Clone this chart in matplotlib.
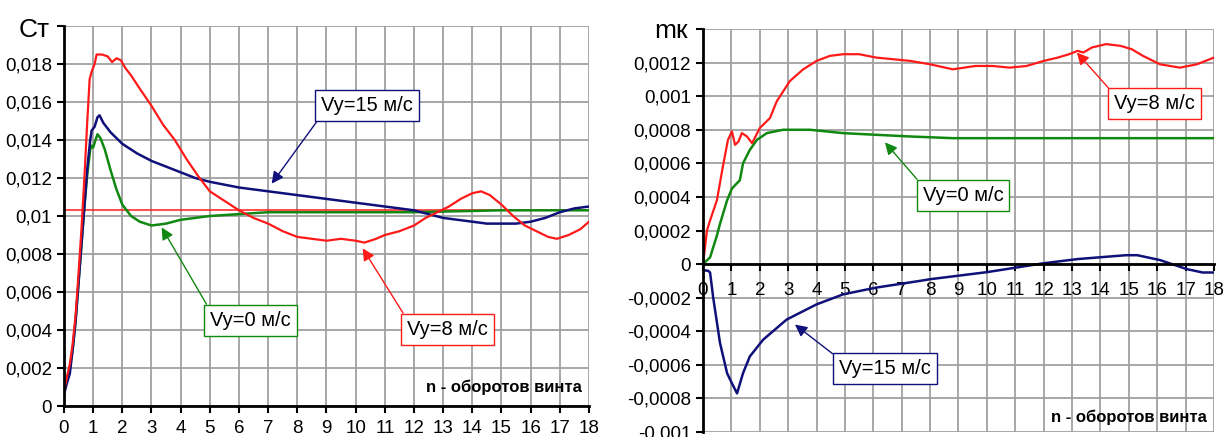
import numpy as np
import matplotlib
matplotlib.use("Agg")
import matplotlib.pyplot as plt
from matplotlib.ticker import FixedLocator, FuncFormatter

plt.rcParams['font.family'] = ['Liberation Sans', 'DejaVu Sans']

# ---- left chart: Ct vs n ----
ct_v8_x = [0, 0.1, 0.2, 0.3, 0.4, 0.5, 0.6, 0.7, 0.8, 0.88, 0.95, 1.05, 1.12, 1.3, 1.5, 1.65, 1.8, 1.95,
           2.1, 2.3, 2.6, 3.0, 3.4, 3.8, 4.2, 4.6, 5.0, 5.5, 6.0, 6.5, 7.0, 7.5, 8.0, 8.5, 9.0, 9.5,
           10.0, 10.3, 10.7, 11.0, 11.5, 12.0, 12.4, 12.8, 13.2, 13.6, 14.0, 14.3, 14.6, 15.0, 15.4,
           15.8, 16.2, 16.6, 16.9, 17.3, 17.7, 18.0]
ct_v8_y = [0.0008, 0.0015, 0.0022, 0.0033, 0.0048, 0.0070, 0.0093, 0.0120, 0.0150, 0.0172, 0.0176, 0.0180,
           0.0185, 0.0185, 0.0184, 0.0181, 0.0183, 0.0182, 0.0178, 0.0174, 0.0167, 0.0158, 0.0148, 0.0140,
           0.0130, 0.0121, 0.0113, 0.0108, 0.0103, 0.0099, 0.0096, 0.0092, 0.0089, 0.0088, 0.0087, 0.0088,
           0.0087, 0.0086, 0.0088, 0.0090, 0.0092, 0.0095, 0.0099, 0.0102, 0.0105, 0.0109, 0.0112, 0.0113,
           0.0111, 0.0106, 0.0100, 0.0095, 0.0092, 0.0089, 0.0088, 0.0090, 0.0093, 0.0097]

ct_v15_x = [0, 0.1, 0.2, 0.3, 0.4, 0.5, 0.6, 0.7, 0.8, 0.9, 0.95, 1.05, 1.15, 1.22, 1.35, 1.6, 2.0, 2.5,
            3.0, 3.5, 4.0, 4.5, 5.0, 6.0, 7.0, 8.0, 9.0, 10.0, 11.0, 12.0, 13.0, 14.0, 14.5, 15.0, 15.5,
            16.0, 16.5, 17.0, 17.5, 18.0]
ct_v15_y = [0.0006, 0.0012, 0.0017, 0.0030, 0.0045, 0.0065, 0.0085, 0.0105, 0.0125, 0.0140, 0.0145, 0.0147,
            0.0152, 0.0153, 0.0149, 0.0144, 0.0138, 0.0133, 0.0129, 0.0126, 0.0123, 0.0120, 0.0118, 0.0115,
            0.0113, 0.0111, 0.0109, 0.0107, 0.0105, 0.0103, 0.0099, 0.0097, 0.0096, 0.0096, 0.0096, 0.0097,
            0.0099, 0.0102, 0.0104, 0.0105]

ct_v0_x = [0, 0.1, 0.2, 0.3, 0.4, 0.5, 0.6, 0.7, 0.8, 0.9, 0.95, 1.0, 1.08, 1.15, 1.25, 1.4, 1.6, 1.8,
           2.0, 2.3, 2.6, 3.0, 3.5, 4.0, 5.0, 6.0, 7.0, 9.0, 12.0, 15.0, 18.0]
ct_v0_y = [0.0010, 0.0015, 0.0020, 0.0030, 0.0045, 0.0065, 0.0085, 0.0105, 0.0122, 0.0135, 0.0137, 0.0136,
           0.0140, 0.0143, 0.0141, 0.0135, 0.0124, 0.0114, 0.0106, 0.0100, 0.0097, 0.0095, 0.0096, 0.0098,
           0.0100, 0.0101, 0.0102, 0.0102, 0.0102, 0.0103, 0.0103]

ct_ref = 0.0103

# ---- right chart: mk vs n ----
mk_v8_x = [0, 0.14, 0.25, 0.49, 0.7, 0.88, 1.02, 1.13, 1.25, 1.37, 1.55, 1.73, 2.0, 2.36, 2.6, 3.06, 3.53,
           4.0, 4.47, 4.94, 5.5, 6.1, 6.7, 7.3, 8.0, 8.8, 9.6, 10.2, 10.8, 11.4, 12.0, 12.5, 12.9, 13.2,
           13.4, 13.7, 14.2, 14.7, 15.1, 15.5, 16.1, 16.8, 17.4, 18.0]
mk_v8_y = [0, 0.0002, 0.00026, 0.00038, 0.00058, 0.00074, 0.00079, 0.00071, 0.00073, 0.00078, 0.00076,
           0.00072, 0.00081, 0.00087, 0.00097, 0.00109, 0.00116, 0.00121, 0.00124, 0.00125, 0.00125,
           0.00123, 0.00122, 0.00121, 0.00119, 0.00116, 0.00118, 0.00118, 0.00117, 0.00118, 0.00121,
           0.00123, 0.00125, 0.00127, 0.00126, 0.00129, 0.00131, 0.0013, 0.00128, 0.00124, 0.00119,
           0.00117, 0.00119, 0.00123]

mk_v0_x = [0, 0.25, 0.49, 0.6, 0.85, 1.02, 1.3, 1.41, 1.65, 1.9, 2.25, 2.82, 3.77, 4.94, 6.1, 7.3, 8.8,
           10.5, 12, 14, 16, 18]
mk_v0_y = [0, 0.00004, 0.00017, 0.00024, 0.00038, 0.00045, 0.0005, 0.0006, 0.00068, 0.00074, 0.00078,
           0.0008, 0.0008, 0.00078, 0.00077, 0.00076, 0.00075, 0.00075, 0.00075, 0.00075, 0.00075, 0.00075]

mk_v15_x = [0, 0.18, 0.25, 0.36, 0.6, 0.85, 1.02, 1.2, 1.41, 1.65, 2.12, 2.95, 4.0, 4.94, 6.1, 7.64, 8.0,
            10, 12, 13.2, 14.9, 15.3, 16.1, 17.05, 17.6, 18]
mk_v15_y = [-0.000036, -0.00004, -0.00005, -0.0002, -0.00047, -0.00065, -0.00071, -0.00077, -0.00065,
            -0.00055, -0.00045, -0.00033, -0.00024, -0.00018, -0.00014, -0.0001, -0.00009, -0.000048,
            0.000005, 0.00003, 0.000053, 0.000053, 0.000024, -0.00003, -0.00005, -0.00005]

n_ticks = list(range(0, 19))
ct_ticks = [0, 0.002, 0.004, 0.006, 0.008, 0.01, 0.012, 0.014, 0.016, 0.018, 0.02]
mk_ticks = [-0.001, -0.0008, -0.0006, -0.0004, -0.0002, 0, 0.0002, 0.0004, 0.0006, 0.0008, 0.001,
            0.0012, 0.0014]

RED = '#ff1a1a'
BLUE = '#10107a'
GREEN = '#118811'
GRID = '#a0a0a0'


def comma_fmt(top):
    def f(v, pos):
        if abs(v - top) < 1e-12:
            return ''
        v = round(v, 6)
        if abs(v) < 1e-12:
            return '0'
        return ('%g' % v).replace('.', ',')
    return FuncFormatter(f)


def callout(ax, text, tip, center, color, corner):
    ax.annotate(text, xy=tip, xytext=center, ha='center', va='center', fontsize=14.5,
                bbox=dict(boxstyle='square,pad=0.3', fc='white', ec=color, lw=1),
                arrowprops=dict(arrowstyle='-|>', color=color, lw=1, mutation_scale=18,
                                shrinkA=0, shrinkB=0, relpos=corner), zorder=5)


def style(ax, yticks):
    ax.set_xlim(0, 18)
    ax.set_ylim(yticks[0], yticks[-1])
    ax.xaxis.set_major_locator(FixedLocator(n_ticks))
    ax.yaxis.set_major_locator(FixedLocator(yticks))
    ax.yaxis.set_major_formatter(comma_fmt(yticks[-1]))
    ax.grid(True, color=GRID, lw=1.3)
    ax.set_axisbelow(True)
    for s in ['top', 'right']:
        ax.spines[s].set_visible(False)
    for s in ['left', 'bottom']:
        ax.spines[s].set_linewidth(2)
    ax.tick_params(labelsize=13.5, width=1.5, length=5, direction='out')


fig = plt.figure(figsize=(12.23, 4.37), dpi=100)

ax1 = fig.add_axes([0.0523, 0.0709, 0.4293, 0.8696])
style(ax1, ct_ticks)
ax1.tick_params(axis='x', pad=5)
ax1.axhline(ct_ref, color=RED, lw=1.1)
ax1.plot(ct_v0_x, ct_v0_y, color=GREEN, lw=1.8)
ax1.plot(ct_v15_x, ct_v15_y, color=BLUE, lw=1.8)
ax1.plot(ct_v8_x, ct_v8_y, color=RED, lw=1.6)
ax1.text(-0.027, 0.99, 'Ст', transform=ax1.transAxes, ha='right', va='center', fontsize=19)
ax1.text(17.75, 0.0010, 'n - оборотов винта', ha='right', va='center', fontsize=12, fontweight='bold')
callout(ax1, 'Vy=15 м/с', (7.12, 0.0117), (10.4, 0.0158), BLUE, (0, 0))
callout(ax1, 'Vy=0 м/с', (3.35, 0.0094), (6.4, 0.00452), GREEN, (0, 1))
callout(ax1, 'Vy=8 м/с', (10.24, 0.0083), (13.15, 0.00405), RED, (0, 1))

ax2 = fig.add_axes([0.5748, 0.0114, 0.4178, 0.9222])
style(ax2, mk_ticks)
ax2.tick_params(axis='x', pad=8)
ax2.spines['bottom'].set_position(('data', 0))
ax2.plot(mk_v0_x, mk_v0_y, color=GREEN, lw=1.8)
ax2.plot(mk_v15_x, mk_v15_y, color=BLUE, lw=1.8)
ax2.plot(mk_v8_x, mk_v8_y, color=RED, lw=1.6)
ax2.text(-0.03, 0.995, 'mк', transform=ax2.transAxes, ha='right', va='center', fontsize=19)
ax2.text(17.75, -0.00091, 'n - оборотов винта', ha='right', va='center', fontsize=12, fontweight='bold')
callout(ax2, 'Vy=8 м/с', (13.17, 0.00126), (15.9, 0.000956), RED, (0, 1))
callout(ax2, 'Vy=0 м/с', (6.41, 0.000725), (9.16, 0.00041), GREEN, (0, 1))
callout(ax2, 'Vy=15 м/с', (3.24, -0.00036), (6.41, -0.00062), BLUE, (0, 1))

fig.savefig('out.png', dpi=100)
